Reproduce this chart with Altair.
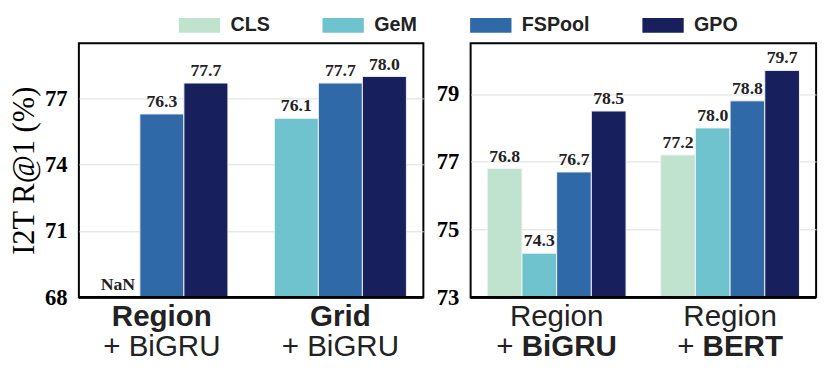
import altair as alt
import pandas as pd

# ---------------- data ----------------
methods = ["CLS", "GeM", "FSPool", "GPO"]
method_colors = ["#bfe3cf", "#6fc3cf", "#2f69a7", "#171f5d"]

left_groups = ["Region + BiGRU", "Grid + BiGRU"]
left_line1 = ["Region", "Grid"]
left_line2 = ["+ BiGRU", "+ BiGRU"]
left_methods = ["GeM", "FSPool", "GPO"]
left_region_bigru = [None, 76.3, 77.7]
left_grid_bigru = [76.1, 77.7, 78.0]
left_ticks = [68, 71, 74, 77]
left_domain = [68, 79.5]

right_groups = ["Region + BiGRU ", "Region + BERT"]
right_line1 = ["Region", "Region"]
right_line2_words = ["BiGRU", "BERT"]
right_methods = ["CLS", "GeM", "FSPool", "GPO"]
right_region_bigru = [76.8, 74.3, 76.7, 78.5]
right_region_bert = [77.2, 78.0, 78.8, 79.7]
right_ticks = [73, 75, 77, 79]
right_domain = [73, 80.5]

y_title = "I2T R@1 (%)"

SERIF = "Liberation Serif"
SANS = "Liberation Sans"
XL_SIZE = 30

# approximate advance widths (em) of Liberation Sans, for centring mixed-weight labels
BOLD_EM = {"B": 0.722, "i": 0.278, "G": 0.778, "R": 0.722, "U": 0.722,
           "E": 0.667, "T": 0.611}
PLUS_EM = 0.584 + 0.278


def make_df(groups, meths, series, ymin):
    rows = []
    for g, vals in zip(groups, series):
        for m, v in zip(meths, vals):
            ok = v is not None
            rows.append({
                "group": g,
                "method": m,
                "value": v if ok else None,
                "label": f"{v:.1f}" if ok else "NaN",
                "label_y": v if ok else ymin,
            })
    return pd.DataFrame(rows)


legend = alt.Legend(
    orient="none", legendX=112, legendY=-29, direction="horizontal",
    title=None, symbolType="M-2,-0.72H2V0.72H-2Z", symbolSize=441,
    symbolStrokeWidth=0, symbolOpacity=1, labelFont=SANS,
    labelFontWeight="bold", labelFontSize=20, labelColor="#222222",
    labelOffset=21, columnPadding=53,
)


def panel(df, groups, line1, line2, meths, domain, ticks, width,
          pad_inner, pad_outer, line1_weight, split_line2, title):
    xenc = alt.X("group:N",
                 scale=alt.Scale(domain=groups, paddingInner=pad_inner,
                                 paddingOuter=pad_outer),
                 axis=None)
    xoff = alt.XOffset("method:N",
                       scale=alt.Scale(domain=meths, paddingInner=0,
                                       paddingOuter=0))
    axis_kw = dict(values=ticks, labelFont=SERIF, labelFontWeight="bold",
                   labelFontSize=23, labelColor="black", labelPadding=12,
                   ticks=False, domain=False, gridColor="#dddddd",
                   gridWidth=1)
    if title:
        axis_kw.update(title=title, titleFont=SERIF, titleFontSize=31,
                       titleFontWeight="normal", titleColor="black",
                       titlePadding=4)
    else:
        axis_kw.update(title=None)
    yscale = alt.Scale(domain=domain, nice=False, zero=False)
    yenc = alt.Y("value:Q", scale=yscale, axis=alt.Axis(**axis_kw))
    color = alt.Color("method:N",
                      scale=alt.Scale(domain=methods, range=method_colors),
                      legend=legend)

    bars = alt.Chart(df).mark_bar(stroke="#f2f2f2", strokeWidth=1).encode(
        x=xenc, xOffset=xoff, y=yenc, y2=alt.datum(domain[0]), color=color
    )
    base_rule = alt.Chart(df).mark_rule(color="black", strokeWidth=2).encode(
        y=alt.datum(domain[0])
    )
    labels = alt.Chart(df).mark_text(
        font=SERIF, fontWeight="bold", fontSize=18, color="#222222",
        baseline="alphabetic", dy=-7
    ).encode(
        x=xenc, xOffset=xoff,
        y=alt.Y("label_y:Q", scale=yscale),
        text="label:N",
    )
    gl = pd.DataFrame({"group": groups, "line1": line1, "line2": line2})
    t1 = alt.Chart(gl).mark_text(
        font=SANS, fontWeight=line1_weight, fontSize=XL_SIZE,
        color="#222222", baseline="alphabetic"
    ).encode(x=xenc, y=alt.value(287), text="line1:N")
    layers = [bars, base_rule, labels, t1]
    if not split_line2:
        t2 = alt.Chart(gl).mark_text(
            font=SANS, fontWeight="normal", fontSize=XL_SIZE,
            color="#222222", baseline="alphabetic"
        ).encode(x=xenc, y=alt.value(318), text="line2:N")
        layers.append(t2)
    else:
        for g, word in zip(groups, line2):
            ww = sum(BOLD_EM.get(c, 0.65) for c in word) * XL_SIZE
            pw = PLUS_EM * XL_SIZE
            start = -(ww + pw) / 2
            sub = alt.Chart(gl).transform_filter(alt.datum.group == g)
            layers.append(sub.mark_text(
                font=SANS, fontWeight="normal", fontSize=XL_SIZE,
                color="#222222", baseline="alphabetic", align="left",
                dx=start
            ).encode(x=xenc, y=alt.value(318), text=alt.value("+")))
            layers.append(sub.mark_text(
                font=SANS, fontWeight="bold", fontSize=XL_SIZE,
                color="#222222", baseline="alphabetic", align="left",
                dx=start + pw
            ).encode(x=xenc, y=alt.value(318), text="line2:N"))
    return alt.layer(*layers).properties(width=width, height=258)


left_df = make_df(left_groups, left_methods,
                  [left_region_bigru, left_grid_bigru], left_domain[0])
right_df = make_df(right_groups, right_methods,
                   [right_region_bigru, right_region_bert], right_domain[0])

left = panel(left_df, left_groups, left_line1, left_line2, left_methods,
             left_domain, left_ticks, 350, 0.26, 0.095, "bold", False,
             y_title)
right = panel(right_df, right_groups, right_line1, right_line2_words,
              right_methods, right_domain, right_ticks, 351, 0.2, 0.096,
              "normal", True, None)

chart = alt.hconcat(left, right, spacing=10).resolve_scale(
    color="shared", y="independent", x="independent",
    xOffset="independent"
).properties(
    padding={"left": 0, "top": 4, "right": 5, "bottom": 0}
).configure_view(
    stroke="black", strokeWidth=2
)

chart.save("out.html", embed_options={"renderer": "svg", "actions": False})
